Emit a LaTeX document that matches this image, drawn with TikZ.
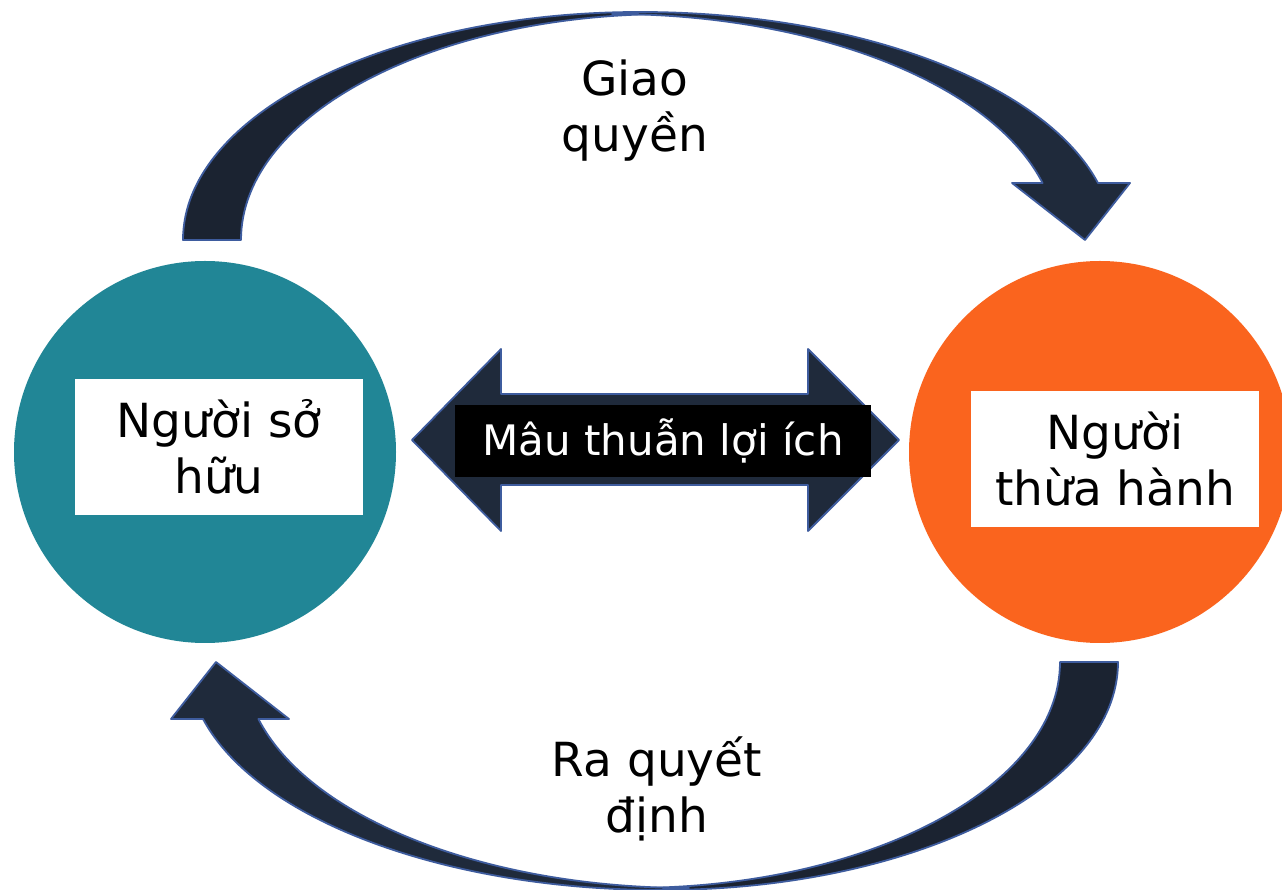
\documentclass[tikz,border=0pt]{standalone}
\usepackage{fontspec}
\setmainfont{DejaVu Sans}
\definecolor{tealc}{RGB}{33,134,150}
\definecolor{orangec}{RGB}{250,100,30}
\definecolor{navyA}{RGB}{31,42,59}
\definecolor{navyB}{RGB}{27,35,49}
\definecolor{edgec}{RGB}{62,92,158}
\tikzset{
  bigtext/.style={font=\fontsize{47}{56}\selectfont, align=center, inner sep=0pt},
  whitebox/.style={fill=white, minimum width=288pt, minimum height=136pt, inner sep=0pt, bigtext},
  party/.style={circle, minimum size=382pt, inner sep=0pt},
  bandedge/.style={draw=edgec, line width=1.8pt, line join=round},
  labelbox/.style={fill=black, text=white, minimum width=416pt, minimum height=72pt, inner sep=0pt, font=\fontsize{42}{50}\selectfont},
}
\newcommand{\curvedband}{%
  \fill[navyB, bandedge] (183,649) arc[start angle=180, end angle=90, x radius=457pt, y radius=228pt]
    -- (669,875) arc[start angle=90, end angle=180, x radius=428pt, y radius=226pt] -- cycle;
  \fill[navyA, bandedge] (640,877) arc[start angle=90, end angle=14.48, x radius=473pt, y radius=228pt]
    -- (1130,706) -- (1085,649) -- (1012,706) -- (1042.6,706)
    arc[start angle=14.61, end angle=90, x radius=445pt, y radius=226pt] -- cycle;
}
\begin{document}
\begin{tikzpicture}[x=1pt, y=1pt]
  \useasboundingbox (0,0) rectangle (1282,889);
  \fill[white] (0,0) rectangle (1282,889);

  % curved arrows
  \curvedband
  \begin{scope}[rotate around={180:(650.5,438)}]
    \curvedband
  \end{scope}

  % parties
  \node[party, fill=tealc] (owner) at (205,437) {};
  \node[party, fill=orangec] (agent) at (1100,437) {};
  \node[whitebox] (ownerbox) at (219,442) {Người sở\\hữu};
  \node[whitebox] (agentbox) at (1115,430) {Người\\thừa hành};

  % double arrow
  \fill[navyA, bandedge] (412,449) -- (501,540) -- (501,495) -- (808,495) -- (808,540)
    -- (899,449) -- (808,358) -- (808,404) -- (501,404) -- (501,358) -- cycle;
  \node[labelbox] (conflict) at (663,448) {Mâu thuẫn lợi ích};

  % labels
  \node[bigtext] (giao) at (635,778) {Giao\\quyền};
  \node[bigtext] (ra) at (657,100) {Ra quyết\\định};
\end{tikzpicture}
\end{document}
